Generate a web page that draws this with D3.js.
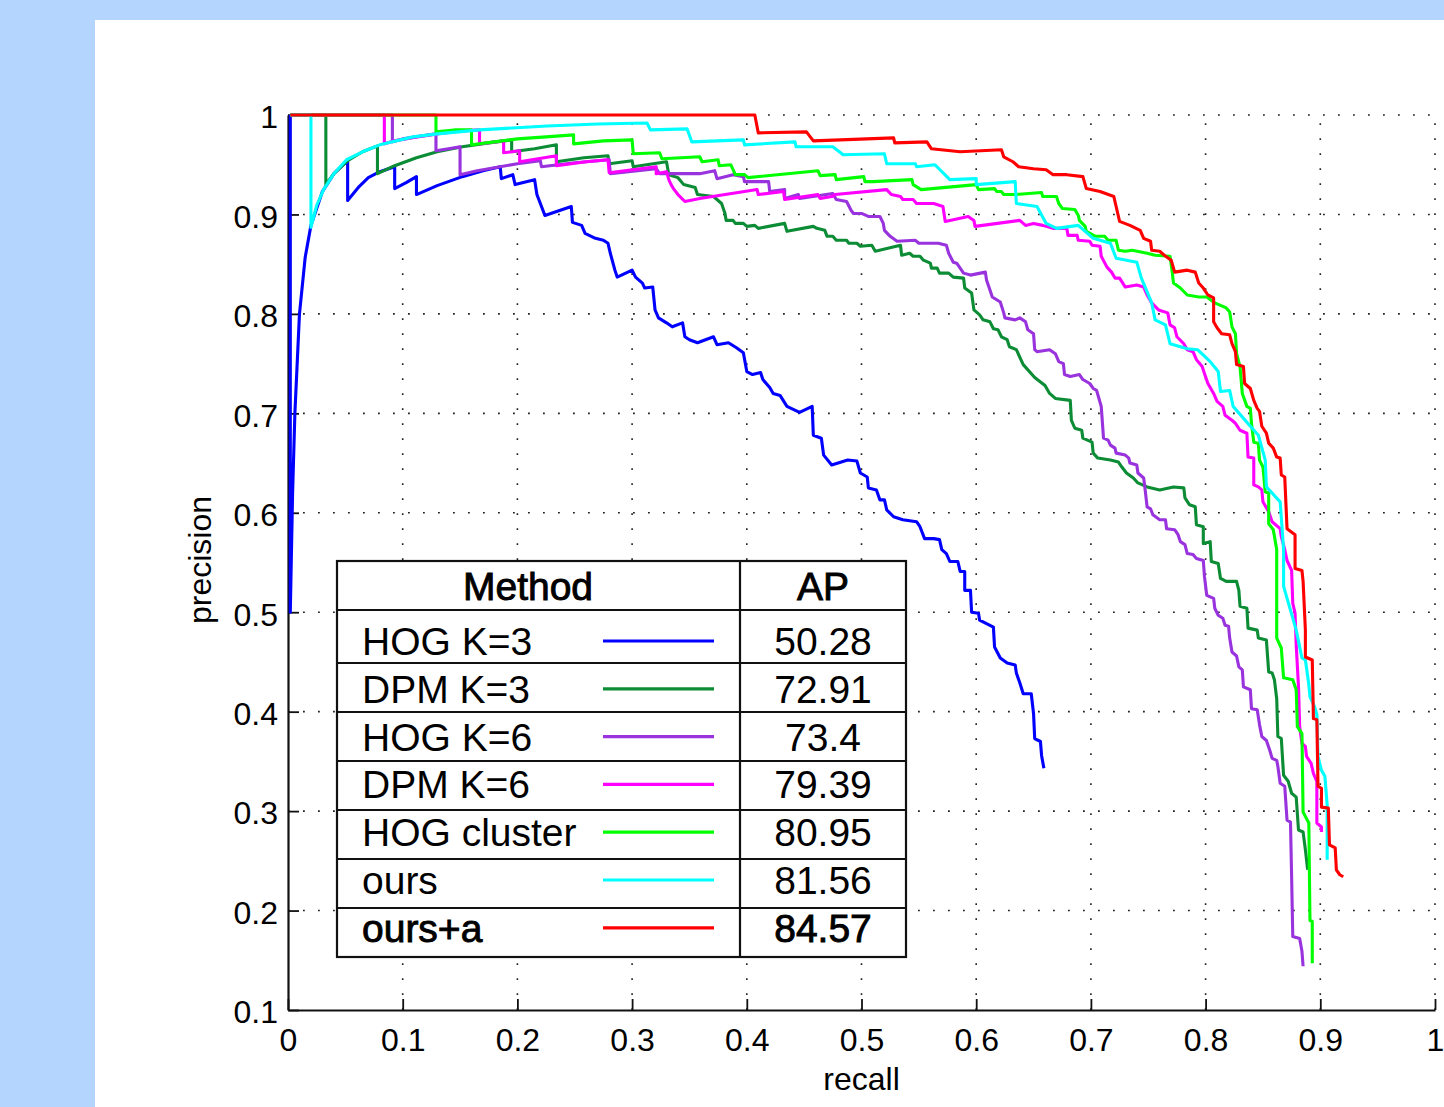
<!DOCTYPE html>
<html>
<head>
<meta charset="utf-8">
<script src="https://cdn.jsdelivr.net/npm/d3@7"></script>
<style>
  body { margin: 0; background: #b4d5fd; }
  svg { display: block; }
  text { font-family: "Liberation Sans", Arial, Helvetica, sans-serif; fill: #000; }
</style>
</head>
<body>
<div id="chart"></div>
<script>
// precision / recall points, [recall, precision]
var hogK3 = [[0.002,1.0],[0.002,0.5],[0.004,0.62],[0.006,0.70],[0.010,0.80],[0.015,0.857],[0.020,0.889],[0.030,0.923],[0.040,0.941],[0.052,0.954],
  [0.052,0.914],[0.062,0.928],[0.070,0.937],[0.080,0.943],[0.093,0.948],[0.093,0.926],[0.103,0.932],[0.112,0.938],
  [0.112,0.920],[0.130,0.929],[0.152,0.938],[0.170,0.944],[0.185,0.948],[0.186,0.936],[0.196,0.940],[0.198,0.930],[0.215,0.935],
  [0.217,0.920],[0.221,0.908],[0.224,0.899],[0.247,0.908],[0.248,0.892],[0.256,0.889],[0.259,0.881],[0.268,0.876],[0.275,0.874],
  [0.279,0.871],[0.281,0.861],[0.285,0.844],[0.287,0.837],[0.300,0.844],[0.303,0.837],[0.309,0.831],[0.311,0.826],[0.318,0.827],
  [0.320,0.804],[0.323,0.796],[0.330,0.791],[0.335,0.787],[0.344,0.791],[0.346,0.777],[0.350,0.774],[0.357,0.771],[0.371,0.777],
  [0.374,0.769],[0.384,0.771],[0.391,0.766],[0.397,0.761],[0.400,0.742],[0.405,0.739],[0.412,0.741],[0.414,0.734],[0.420,0.726],
  [0.423,0.720],[0.429,0.718],[0.435,0.707],[0.446,0.701],[0.457,0.707],[0.458,0.678],[0.465,0.675],[0.467,0.658],[0.474,0.648],
  [0.488,0.653],[0.496,0.652],[0.499,0.640],[0.505,0.636],[0.506,0.625],[0.513,0.623],[0.516,0.613],[0.520,0.613],[0.522,0.603],
  [0.528,0.596],[0.536,0.593],[0.548,0.591],[0.551,0.586],[0.555,0.574],[0.563,0.574],[0.568,0.573],[0.570,0.563],[0.574,0.559],
  [0.577,0.551],[0.584,0.551],[0.586,0.541],[0.590,0.541],[0.590,0.522],[0.595,0.522],[0.596,0.500],[0.602,0.499],[0.603,0.492],
  [0.615,0.485],[0.616,0.465],[0.621,0.454],[0.627,0.449],[0.634,0.447],[0.635,0.439],[0.638,0.429],[0.641,0.418],[0.648,0.418],
  [0.650,0.398],[0.651,0.373],[0.656,0.370],[0.657,0.356],[0.659,0.343]];

var dpmK3 = [[0.002,1.0],[0.033,1.0],[0.033,0.930],[0.040,0.941],[0.052,0.954],[0.065,0.963],[0.078,0.969],[0.078,0.941],[0.093,0.949],
  [0.112,0.957],[0.130,0.963],[0.152,0.968],[0.175,0.972],[0.195,0.975],[0.195,0.963],[0.215,0.966],[0.234,0.970],[0.234,0.953],
  [0.258,0.957],[0.279,0.959],[0.280,0.951],[0.300,0.954],[0.301,0.948],[0.330,0.953],[0.332,0.940],[0.340,0.937],[0.345,0.930],
  [0.355,0.927],[0.357,0.920],[0.371,0.918],[0.378,0.911],[0.381,0.901],[0.382,0.894],[0.388,0.894],[0.390,0.891],[0.397,0.891],
  [0.400,0.888],[0.407,0.889],[0.410,0.886],[0.433,0.891],[0.435,0.883],[0.458,0.888],[0.461,0.886],[0.468,0.884],[0.470,0.878],
  [0.475,0.878],[0.478,0.874],[0.487,0.874],[0.489,0.871],[0.496,0.871],[0.499,0.868],[0.509,0.869],[0.512,0.863],[0.534,0.869],
  [0.535,0.859],[0.542,0.861],[0.545,0.858],[0.551,0.858],[0.554,0.854],[0.560,0.851],[0.561,0.846],[0.566,0.846],[0.568,0.841],
  [0.576,0.841],[0.580,0.837],[0.589,0.836],[0.590,0.826],[0.596,0.821],[0.598,0.804],[0.603,0.799],[0.606,0.794],[0.612,0.792],
  [0.615,0.785],[0.619,0.784],[0.622,0.777],[0.627,0.774],[0.629,0.767],[0.635,0.764],[0.641,0.749],[0.651,0.736],[0.660,0.728],
  [0.664,0.720],[0.669,0.715],[0.682,0.713],[0.683,0.693],[0.686,0.685],[0.692,0.683],[0.693,0.675],[0.701,0.671],[0.702,0.660],
  [0.706,0.655],[0.717,0.653],[0.724,0.651],[0.727,0.646],[0.731,0.640],[0.737,0.635],[0.741,0.630],[0.749,0.626],[0.760,0.623],
  [0.772,0.626],[0.781,0.625],[0.782,0.615],[0.786,0.608],[0.791,0.606],[0.792,0.588],[0.798,0.586],[0.798,0.569],[0.804,0.571],
  [0.805,0.551],[0.811,0.549],[0.813,0.534],[0.818,0.531],[0.827,0.531],[0.829,0.522],[0.830,0.506],[0.836,0.504],[0.837,0.484],
  [0.845,0.482],[0.846,0.474],[0.853,0.472],[0.855,0.440],[0.858,0.439],[0.860,0.432],[0.862,0.413],[0.863,0.375],[0.866,0.373],
  [0.868,0.336],[0.872,0.330],[0.875,0.318],[0.879,0.314],[0.881,0.281],[0.885,0.279],[0.887,0.261],[0.889,0.241]];

var hogK6 = [[0.002,1.0],[0.091,1.0],[0.091,0.973],[0.100,0.976],[0.112,0.978],[0.129,0.981],[0.129,0.964],[0.140,0.966],[0.150,0.968],
  [0.150,0.940],[0.165,0.944],[0.185,0.948],[0.200,0.951],[0.220,0.954],[0.221,0.948],[0.250,0.952],[0.280,0.955],[0.281,0.941],
  [0.321,0.946],[0.324,0.941],[0.359,0.941],[0.372,0.944],[0.374,0.936],[0.388,0.940],[0.397,0.938],[0.398,0.933],[0.419,0.933],
  [0.420,0.923],[0.433,0.925],[0.433,0.916],[0.445,0.920],[0.446,0.916],[0.475,0.921],[0.478,0.915],[0.487,0.913],[0.491,0.904],
  [0.493,0.901],[0.500,0.901],[0.506,0.898],[0.516,0.898],[0.519,0.891],[0.520,0.884],[0.525,0.878],[0.531,0.873],[0.547,0.874],
  [0.550,0.871],[0.567,0.871],[0.574,0.869],[0.576,0.861],[0.580,0.852],[0.583,0.851],[0.589,0.841],[0.595,0.839],[0.608,0.842],
  [0.609,0.834],[0.612,0.824],[0.614,0.817],[0.621,0.812],[0.624,0.801],[0.625,0.796],[0.634,0.794],[0.638,0.796],[0.643,0.792],
  [0.645,0.784],[0.650,0.780],[0.651,0.764],[0.653,0.762],[0.664,0.764],[0.669,0.760],[0.672,0.752],[0.676,0.750],[0.677,0.739],
  [0.682,0.737],[0.690,0.739],[0.693,0.734],[0.699,0.730],[0.702,0.725],[0.705,0.723],[0.709,0.707],[0.711,0.675],[0.715,0.673],
  [0.717,0.668],[0.721,0.665],[0.722,0.660],[0.730,0.658],[0.733,0.655],[0.734,0.650],[0.740,0.648],[0.741,0.640],[0.746,0.635],
  [0.747,0.626],[0.749,0.606],[0.752,0.604],[0.754,0.598],[0.760,0.593],[0.765,0.593],[0.766,0.584],[0.773,0.583],[0.776,0.578],
  [0.778,0.571],[0.782,0.568],[0.784,0.559],[0.789,0.558],[0.792,0.554],[0.798,0.552],[0.799,0.536],[0.801,0.517],[0.807,0.514],
  [0.808,0.504],[0.811,0.497],[0.815,0.494],[0.817,0.487],[0.820,0.486],[0.821,0.474],[0.823,0.460],[0.827,0.456],[0.829,0.445],
  [0.832,0.442],[0.833,0.425],[0.839,0.422],[0.840,0.403],[0.845,0.402],[0.847,0.387],[0.849,0.375],[0.853,0.371],[0.856,0.361],
  [0.858,0.353],[0.862,0.351],[0.863,0.345],[0.865,0.328],[0.869,0.325],[0.871,0.291],[0.874,0.289],[0.875,0.234],[0.876,0.174],
  [0.882,0.172],[0.884,0.159],[0.885,0.144]];

var dpmK6 = [[0.002,1.0],[0.084,1.0],[0.084,0.971],[0.093,0.974],[0.112,0.978],[0.130,0.981],[0.150,0.984],[0.167,0.985],[0.167,0.971],
  [0.188,0.974],[0.188,0.962],[0.202,0.964],[0.202,0.953],[0.234,0.959],[0.234,0.949],[0.260,0.953],[0.279,0.955],[0.280,0.942],
  [0.321,0.948],[0.321,0.941],[0.330,0.943],[0.332,0.935],[0.334,0.930],[0.336,0.926],[0.340,0.920],[0.346,0.913],[0.359,0.916],
  [0.409,0.925],[0.410,0.920],[0.432,0.923],[0.433,0.915],[0.462,0.920],[0.464,0.916],[0.474,0.918],[0.477,0.920],[0.522,0.925],
  [0.526,0.920],[0.534,0.918],[0.536,0.915],[0.545,0.915],[0.548,0.911],[0.563,0.911],[0.571,0.908],[0.573,0.893],[0.593,0.898],
  [0.598,0.894],[0.599,0.888],[0.638,0.894],[0.643,0.889],[0.650,0.891],[0.658,0.889],[0.667,0.886],[0.679,0.886],[0.680,0.879],
  [0.688,0.879],[0.689,0.874],[0.699,0.873],[0.701,0.869],[0.708,0.868],[0.709,0.858],[0.714,0.847],[0.718,0.842],[0.721,0.836],
  [0.725,0.836],[0.730,0.827],[0.740,0.829],[0.746,0.827],[0.749,0.819],[0.753,0.811],[0.759,0.804],[0.767,0.801],[0.769,0.789],
  [0.773,0.786],[0.775,0.777],[0.781,0.770],[0.784,0.764],[0.789,0.762],[0.792,0.754],[0.797,0.747],[0.799,0.740],[0.802,0.730],
  [0.807,0.720],[0.810,0.712],[0.815,0.707],[0.817,0.698],[0.823,0.693],[0.826,0.690],[0.830,0.683],[0.836,0.680],[0.837,0.656],
  [0.842,0.655],[0.842,0.628],[0.846,0.626],[0.849,0.623],[0.850,0.611],[0.855,0.601],[0.858,0.591],[0.865,0.584],[0.866,0.576],
  [0.869,0.563],[0.871,0.552],[0.875,0.542],[0.876,0.509],[0.878,0.499],[0.879,0.467],[0.881,0.425],[0.882,0.385],[0.884,0.368],
  [0.887,0.365],[0.888,0.355],[0.892,0.348],[0.894,0.338],[0.897,0.330],[0.897,0.288],[0.901,0.284],[0.901,0.279]];

var hogCluster = [[0.002,1.0],[0.129,1.0],[0.129,0.983],[0.145,0.985],[0.160,0.985],[0.160,0.970],[0.180,0.973],[0.200,0.976],
  [0.225,0.978],[0.249,0.980],[0.249,0.971],[0.275,0.974],[0.300,0.975],[0.301,0.961],[0.324,0.962],[0.326,0.956],[0.359,0.958],
  [0.361,0.953],[0.375,0.955],[0.376,0.949],[0.386,0.950],[0.388,0.945],[0.390,0.940],[0.398,0.940],[0.401,0.937],[0.462,0.944],
  [0.464,0.939],[0.477,0.940],[0.478,0.935],[0.502,0.938],[0.503,0.933],[0.510,0.933],[0.544,0.935],[0.545,0.930],[0.552,0.925],
  [0.600,0.930],[0.602,0.925],[0.616,0.926],[0.618,0.923],[0.622,0.923],[0.624,0.920],[0.634,0.920],[0.657,0.922],[0.658,0.918],
  [0.670,0.918],[0.672,0.911],[0.675,0.906],[0.686,0.905],[0.689,0.899],[0.690,0.894],[0.695,0.888],[0.696,0.883],[0.704,0.878],
  [0.712,0.878],[0.715,0.874],[0.722,0.874],[0.724,0.864],[0.730,0.863],[0.736,0.864],[0.749,0.861],[0.756,0.859],[0.769,0.858],
  [0.771,0.841],[0.772,0.831],[0.778,0.826],[0.784,0.819],[0.794,0.817],[0.801,0.817],[0.808,0.811],[0.818,0.806],[0.821,0.802],
  [0.823,0.787],[0.826,0.780],[0.827,0.760],[0.830,0.747],[0.832,0.720],[0.836,0.707],[0.839,0.705],[0.840,0.690],[0.842,0.671],
  [0.846,0.670],[0.847,0.653],[0.850,0.646],[0.852,0.621],[0.855,0.620],[0.855,0.589],[0.859,0.583],[0.862,0.563],[0.862,0.474],
  [0.866,0.464],[0.868,0.434],[0.876,0.432],[0.879,0.422],[0.880,0.385],[0.884,0.378],[0.885,0.299],[0.890,0.288],[0.891,0.190],
  [0.893,0.189],[0.893,0.147]];

var ours = [[0.002,1.0],[0.020,1.0],[0.020,0.887],[0.025,0.909],[0.031,0.925],[0.040,0.941],[0.051,0.955],[0.065,0.963],[0.080,0.970],
  [0.109,0.978],[0.130,0.981],[0.167,0.985],[0.226,0.989],[0.270,0.991],[0.313,0.992],[0.316,0.985],[0.348,0.986],[0.352,0.973],
  [0.397,0.975],[0.398,0.970],[0.442,0.973],[0.443,0.968],[0.475,0.968],[0.484,0.960],[0.520,0.961],[0.522,0.951],[0.547,0.951],
  [0.548,0.948],[0.564,0.950],[0.577,0.935],[0.600,0.936],[0.600,0.930],[0.634,0.933],[0.635,0.911],[0.653,0.908],[0.661,0.891],
  [0.670,0.886],[0.689,0.889],[0.702,0.876],[0.717,0.871],[0.722,0.856],[0.740,0.852],[0.744,0.836],[0.753,0.811],[0.756,0.794],
  [0.765,0.789],[0.769,0.770],[0.784,0.765],[0.793,0.764],[0.804,0.752],[0.811,0.742],[0.813,0.722],[0.821,0.723],[0.824,0.707],
  [0.839,0.687],[0.846,0.678],[0.852,0.653],[0.853,0.626],[0.865,0.611],[0.868,0.563],[0.868,0.526],[0.876,0.494],[0.879,0.482],
  [0.884,0.454],[0.887,0.452],[0.888,0.444],[0.890,0.427],[0.891,0.415],[0.895,0.405],[0.897,0.397],[0.898,0.355],[0.901,0.341],
  [0.904,0.335],[0.906,0.306],[0.906,0.251]];

var oursA = [[0.002,1.0],[0.407,1.0],[0.410,0.982],[0.452,0.983],[0.458,0.974],[0.528,0.977],[0.529,0.972],[0.557,0.973],[0.561,0.966],
  [0.586,0.963],[0.622,0.965],[0.624,0.958],[0.632,0.953],[0.637,0.948],[0.650,0.946],[0.661,0.945],[0.667,0.940],[0.679,0.940],
  [0.693,0.938],[0.696,0.926],[0.708,0.923],[0.720,0.918],[0.722,0.908],[0.725,0.893],[0.734,0.889],[0.743,0.884],[0.746,0.876],
  [0.752,0.873],[0.753,0.864],[0.760,0.863],[0.764,0.859],[0.770,0.854],[0.773,0.842],[0.784,0.844],[0.791,0.842],[0.794,0.831],
  [0.798,0.826],[0.802,0.819],[0.807,0.816],[0.807,0.792],[0.810,0.786],[0.814,0.780],[0.821,0.779],[0.823,0.770],[0.826,0.762],
  [0.827,0.749],[0.833,0.747],[0.834,0.730],[0.839,0.725],[0.842,0.713],[0.845,0.705],[0.847,0.702],[0.849,0.687],[0.853,0.680],
  [0.855,0.670],[0.859,0.665],[0.862,0.656],[0.865,0.655],[0.866,0.638],[0.869,0.636],[0.871,0.584],[0.878,0.578],[0.878,0.544],
  [0.884,0.542],[0.885,0.531],[0.887,0.482],[0.887,0.455],[0.893,0.452],[0.894,0.393],[0.897,0.392],[0.898,0.325],[0.901,0.323],
  [0.901,0.304],[0.907,0.303],[0.908,0.266],[0.913,0.263],[0.914,0.241],[0.917,0.236],[0.920,0.234]];

var methods = ["HOG K=3", "DPM K=3", "HOG K=6", "DPM K=6", "HOG cluster", "ours", "ours+a"];
var apValues = ["50.28", "72.91", "73.4", "79.39", "80.95", "81.56", "84.57"];
var xTicks = [0, 0.1, 0.2, 0.3, 0.4, 0.5, 0.6, 0.7, 0.8, 0.9, 1];
var yTicks = [0.1, 0.2, 0.3, 0.4, 0.5, 0.6, 0.7, 0.8, 0.9, 1];

var series = [hogK3, dpmK3, hogK6, dpmK6, hogCluster, ours, oursA];
var colors = ["#0000ff", "#0c8c34", "#9933dd", "#ff00ff", "#00ff00", "#00ffff", "#ff0000"];

var svgWidth = 1444;
var svgHeight = 1107;

var svg = d3.select("#chart")
  .append("svg")
  .attr("width", svgWidth)
  .attr("height", svgHeight);

// blue page frame, white figure area
svg.append("rect").attr("width", svgWidth).attr("height", svgHeight).attr("fill", "#b4d5fd");
svg.append("rect").attr("x", 95).attr("y", 20)
  .attr("width", svgWidth - 95).attr("height", svgHeight - 20).attr("fill", "#ffffff");

var x = d3.scaleLinear().domain([0, 1]).range([288, 1435]);
var y = d3.scaleLinear().domain([0.1, 1]).range([1010, 115]);

// dotted grid
var grid = svg.append("g")
  .attr("stroke", "#222")
  .attr("stroke-width", 1.6)
  .attr("stroke-dasharray", "1.8,13.2");

grid.selectAll(".gx")
  .data(xTicks.slice(1))
  .enter()
  .append("line")
  .attr("x1", d => x(d)).attr("x2", d => x(d))
  .attr("y1", y(0.1)).attr("y2", y(1));

grid.selectAll(".gy")
  .data(yTicks.slice(1))
  .enter()
  .append("line")
  .attr("x1", x(0)).attr("x2", x(1))
  .attr("y1", d => y(d)).attr("y2", d => y(d));

// axes, ticks pointing inward
var bottom = d3.axisBottom(x)
  .tickValues(xTicks)
  .tickFormat(d => String(d))
  .tickSizeInner(-11)
  .tickSizeOuter(0)
  .tickPadding(18);

var left = d3.axisLeft(y)
  .tickValues(yTicks)
  .tickFormat(d => String(d))
  .tickSizeInner(-11)
  .tickSizeOuter(0)
  .tickPadding(10);

var gx = svg.append("g")
  .attr("transform", `translate(0, ${y(0.1)})`)
  .call(bottom);

var gy = svg.append("g")
  .attr("transform", `translate(${x(0)}, 0)`)
  .call(left);

[gx, gy].forEach(function(g) {
  g.attr("font-size", null).attr("font-family", null);
  g.select(".domain").attr("stroke", "#111").attr("stroke-width", 2.2);
  g.selectAll(".tick line").attr("stroke", "#111").attr("stroke-width", 1.8);
  g.selectAll(".tick text").attr("font-size", 32).attr("fill", "#000");
});
gy.selectAll(".tick text").attr("dy", "0.4em");

// curves
var line = d3.line()
  .x(d => x(d[0]))
  .y(d => y(d[1]));

svg.append("g")
  .selectAll("path")
  .data(series)
  .enter()
  .append("path")
  .attr("d", line)
  .attr("fill", "none")
  .attr("stroke", (d, i) => colors[i])
  .attr("stroke-width", 3.1)
  .attr("stroke-linejoin", "round");

// axis labels
svg.append("text")
  .attr("x", x(0.5))
  .attr("y", 1090)
  .attr("text-anchor", "middle")
  .attr("font-size", 32)
  .text("recall");

svg.append("text")
  .attr("transform", "translate(211, 560) rotate(-90)")
  .attr("text-anchor", "middle")
  .attr("font-size", 32)
  .text("precision");

// legend table
var lg = svg.append("g");
var boxL = 337, boxR = 906, boxDiv = 740, boxTop = 561, boxBottom = 957;
var rowLines = [610, 663, 712, 761, 810, 859, 908];

lg.append("rect")
  .attr("x", boxL).attr("y", boxTop)
  .attr("width", boxR - boxL).attr("height", boxBottom - boxTop)
  .attr("fill", "#fff").attr("stroke", "#111").attr("stroke-width", 2.2);

lg.selectAll(".row")
  .data(rowLines)
  .enter()
  .append("line")
  .attr("x1", boxL).attr("x2", boxR)
  .attr("y1", d => d).attr("y2", d => d)
  .attr("stroke", "#111").attr("stroke-width", 2.2);

lg.append("line")
  .attr("x1", boxDiv).attr("x2", boxDiv)
  .attr("y1", boxTop).attr("y2", boxBottom)
  .attr("stroke", "#111").attr("stroke-width", 2.2);

lg.append("text").attr("x", 528).attr("y", 600).attr("text-anchor", "middle")
  .attr("font-size", 39).attr("stroke", "#000").attr("stroke-width", 0.9).text("Method");
lg.append("text").attr("x", 823).attr("y", 600).attr("text-anchor", "middle")
  .attr("font-size", 39).attr("stroke", "#000").attr("stroke-width", 0.9).text("AP");

var items = lg.selectAll(".item")
  .data(methods)
  .enter()
  .append("g")
  .attr("transform", (d, i) => `translate(0, ${i * 47.8})`);

items.append("text")
  .attr("x", 362).attr("y", 655)
  .attr("font-size", 39)
  .attr("stroke", (d, i) => i === 6 ? "#000" : "none")
  .attr("stroke-width", 0.9)
  .text(d => d);

items.append("line")
  .attr("x1", 603).attr("x2", 714)
  .attr("y1", 641).attr("y2", 641)
  .attr("stroke", (d, i) => colors[i])
  .attr("stroke-width", 3.2);

items.append("text")
  .attr("x", 823).attr("y", 655)
  .attr("text-anchor", "middle")
  .attr("font-size", 39)
  .attr("stroke", (d, i) => i === 6 ? "#000" : "none")
  .attr("stroke-width", 0.9)
  .text((d, i) => apValues[i]);
</script>
</body>
</html>
